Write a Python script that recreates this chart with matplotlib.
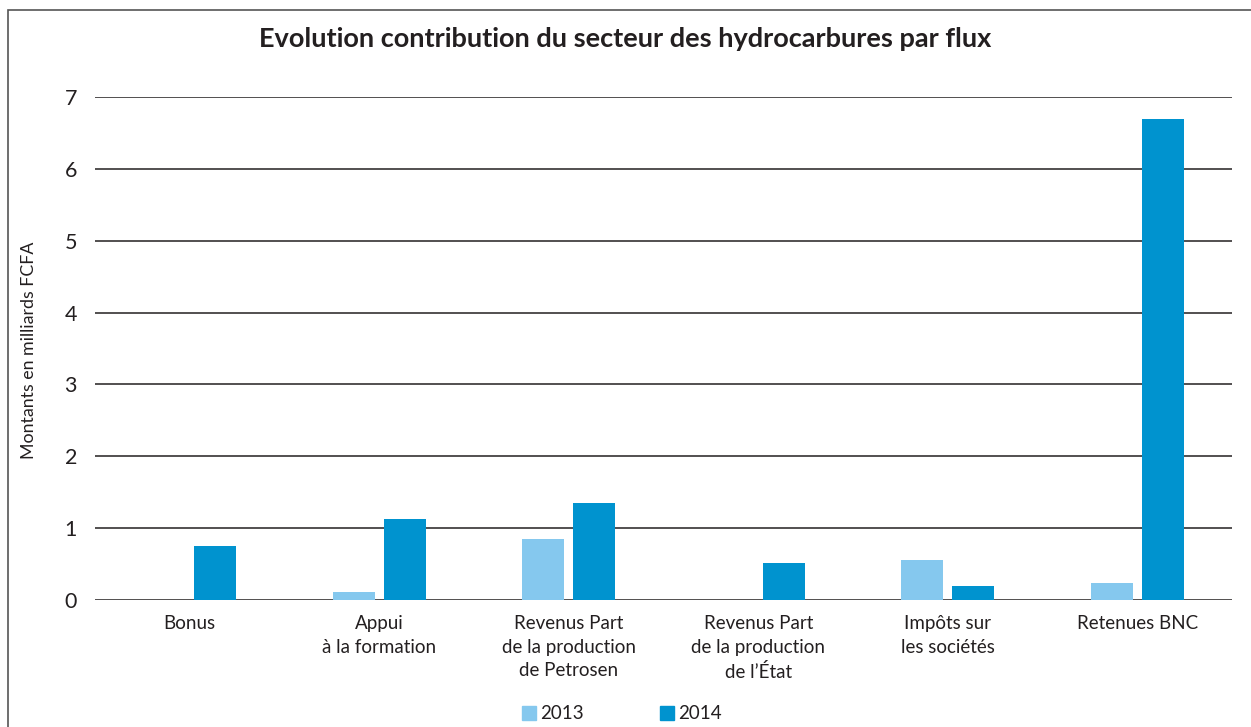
import numpy as np
import matplotlib.pyplot as plt
from matplotlib.patches import Rectangle, Patch

plt.rcParams['font.family'] = ['Lato', 'DejaVu Sans']

categories = ["Bonus", "Appui\nà la formation", "Revenus Part\nde la production\nde Petrosen",
              "Revenus Part\nde la production\nde l\u2019État", "Impôts sur\nles sociétés", "Retenues BNC"]
v2013 = [0.0, 0.11, 0.85, 0.0, 0.56, 0.24]
v2014 = [0.75, 1.13, 1.35, 0.51, 0.20, 6.70]
years = ["2013", "2014"]
couleurs = ["#85C8EE", "#0093CF"]

fig = plt.figure(figsize=(12.51, 7.27), dpi=100)
ax = fig.add_axes([0.0759, 0.1747, 0.9089, 0.6919])

x = np.arange(len(categories))
w = 0.222
ecart = 0.047
ax.bar(x - (w + ecart) / 2, v2013, w, color=couleurs[0], zorder=3)
ax.bar(x + (w + ecart) / 2, v2014, w, color=couleurs[1], zorder=3)

ax.set_xlim(-0.5, len(categories) - 0.5)
ax.set_ylim(0, 7)
ax.set_yticks(range(8))
ax.yaxis.grid(True, color="#231F20", lw=1.1)
ax.set_axisbelow(True)
for s in ax.spines.values():
    s.set_visible(False)
ax.tick_params(axis="y", length=0, pad=13, labelsize=15.5, labelcolor="#231F20")
ax.tick_params(axis="x", length=0, pad=11, labelsize=13.5, labelcolor="#231F20")
ax.set_xticks(x)
ax.set_xticklabels(categories, linespacing=1.47)
ax.set_ylabel("Montants en milliards FCFA", fontsize=12.8, color="#231F20")
ax.yaxis.set_label_coords(-0.051, 0.497)

fig.text(0.5, 0.947, "Evolution contribution du secteur des hydrocarbures par flux",
         ha="center", va="center", fontsize=19.5, fontweight="bold", color="#231F20")

poignees = [Patch(color=c) for c in couleurs]
fig.legend(poignees, years, loc="center", bbox_to_anchor=(0.497, 0.018), ncol=2, frameon=False,
           handlelength=0.75, handleheight=0.75, handletextpad=0.2, columnspacing=4.1,
           fontsize=13.5, labelcolor="#231F20")

# cadre autour du graphique
fig.patches.append(Rectangle((8 / 1251, -0.05), 1.05, 1.05 - 10 / 727, transform=fig.transFigure,
                             fill=False, edgecolor="#555555", lw=1.2))

fig.savefig("out.png", dpi=100)
